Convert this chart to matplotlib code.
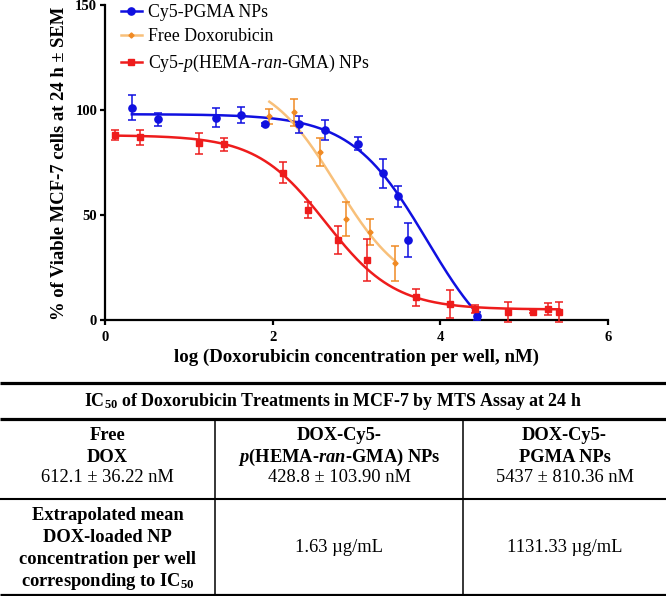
import numpy as np
import matplotlib
matplotlib.use("Agg")
import matplotlib.pyplot as plt
from matplotlib.lines import Line2D

plt.rcParams['font.family'] = ['Liberation Serif', 'DejaVu Serif']
plt.rcParams['mathtext.fontset'] = 'custom'
plt.rcParams['mathtext.rm'] = 'Liberation Serif'
plt.rcParams['mathtext.it'] = 'Liberation Serif:italic'
plt.rcParams['mathtext.bf'] = 'Liberation Serif:bold'
plt.rcParams['mathtext.bfit'] = 'Liberation Serif:italic:bold'

# viability data, x = log(DOX concentration per well, nM)
pgma_x = [0.32, 0.63, 1.32, 1.62, 1.91, 2.32, 2.63, 3.02, 3.32, 3.49, 3.62, 4.44]
pgma_y = [101.1, 95.6, 96.3, 97.6, 93.2, 93.2, 90.5, 84.0, 69.8, 59.0, 38.0, 1.9]
pgma_err = [6.0, 3.0, 4.5, 4.0, 0.8, 4.0, 4.8, 3.0, 7.0, 5.0, 8.0, 2.0]

dox_x = [1.96, 2.26, 2.56, 2.87, 3.16, 3.46]
dox_y = [97.1, 98.9, 80.1, 48.0, 42.0, 27.0]
dox_err = [3.6, 6.3, 6.8, 8.0, 6.3, 8.3]

hema_x = [0.12, 0.42, 1.12, 1.42, 2.12, 2.42, 2.78, 3.12, 3.71, 4.12, 4.41, 4.81, 5.11, 5.29, 5.42]
hema_y = [88.1, 87.0, 84.1, 83.7, 70.2, 52.4, 38.0, 28.6, 10.8, 7.5, 5.1, 4.0, 4.0, 5.1, 4.0]
hema_err = [2.4, 3.6, 5.0, 3.0, 5.0, 4.0, 6.7, 10.0, 4.2, 6.7, 2.0, 4.8, 0.8, 2.8, 4.8]

# 4PL fit parameters (top, bottom, logIC50, hill)
pgma_fit = (98.0, -22.0, 3.84, 0.96)
dox_fit = (117.0, 12.0, 2.76, 1.06)
hema_fit = (88.0, 5.0, 2.632, 1.05)

labels = ["Cy5-PGMA NPs", "Free Doxorubicin", "Cy5-$p$(HEMA-$ran$-GMA) NPs"]

# table below the graph
table_title = r"IC$_{\mathbf{50}}$ of Doxorubicin Treatments in MCF-7 by MTS Assay at 24 h"
col_heads = [["Free", "DOX"],
             ["DOX-Cy5-", r"$\mathbfit{p}$(HEMA-$\mathbfit{ran}$-GMA) NPs"],
             ["DOX-Cy5-", "PGMA NPs"]]
ic50_vals = ["612.1 ± 36.22 nM", "428.8 ± 103.90 nM", "5437 ± 810.36 nM"]
row2_head = ["Extrapolated mean", "DOX-loaded NP", "concentration per well",
             r"corresponding to IC$_{\mathbf{50}}$"]
np_conc = ["1.63 µg/mL", "1131.33 µg/mL"]

blue = "#1010e0"
red = "#ee1c1c"
orange = "#f08a24"
orange_lt = "#f8c07a"


def four_pl(x, top, bottom, logic50, hill):
    return bottom + (top - bottom) / (1 + 10 ** ((x - logic50) * hill))


W, H = 666, 596
fig = plt.figure(figsize=(W / 100, H / 100), dpi=100)
ax = fig.add_axes([105 / W, 1 - 320 / H, 503 / W, 315 / H])

series = [
    (pgma_x, pgma_y, pgma_err, pgma_fit, blue, blue, 'o', 5.2),
    (dox_x, dox_y, dox_err, dox_fit, orange_lt, orange, 'D', 2.6),
    (hema_x, hema_y, hema_err, hema_fit, red, red, 's', 4.8),
]
for x, y, e, p, lc, mc, mk, ms in series:
    xs = np.linspace(min(x), max(x), 300)
    ax.plot(xs, four_pl(xs, *p), color=lc, lw=1.8, zorder=2)
    ax.errorbar(x, y, yerr=e, fmt='none', ecolor=mc, elinewidth=1.1,
                capsize=3, capthick=1.1, zorder=3, clip_on=False)
    ax.plot(x, y, linestyle='none', marker=mk, ms=ms, color=mc, zorder=4, clip_on=False)

handles = [
    Line2D([], [], color=blue, lw=1.8, marker='o', ms=5.2),
    Line2D([], [], color=orange_lt, lw=1.8, marker='D', ms=2.6, mfc=orange, mec=orange),
    Line2D([], [], color=red, lw=1.8, marker='s', ms=4.8),
]
ax.legend(handles, labels, loc='upper left', bbox_to_anchor=(0.032, 1.004),
          frameon=False, fontsize=12.8, handlelength=1.15, handletextpad=0.35,
          labelspacing=0.42, borderpad=0, borderaxespad=0)

ax.set_xlim(0, 6)
ax.set_ylim(0, 150)
ax.set_xticks([0, 2, 4, 6])
ax.set_yticks([0, 50, 100, 150])
for s in ['top', 'right']:
    ax.spines[s].set_visible(False)
for s in ['left', 'bottom']:
    ax.spines[s].set_linewidth(1.6)
ax.tick_params(width=1.6, length=3.6, labelsize=10.5)
ax.tick_params(axis='x', pad=4)
ax.tick_params(axis='y', pad=2)
for t in ax.get_xticklabels() + ax.get_yticklabels():
    t.set_fontweight('bold')

fig.text(60 / W, 1 - 163 / H, "% of Viable MCF-7 cells at 24 h ± SEM", rotation=90,
         ha='center', va='center', fontsize=13.4, fontweight='bold')
fig.text(357 / W, 1 - 357 / H, "log (Doxorubicin concentration per well, nM)",
         ha='center', va='center', fontsize=13.6, fontweight='bold')

# table drawn in pixel coordinates
tab = fig.add_axes([0, 0, 1, 1], zorder=-1)
tab.set_xlim(0, W)
tab.set_ylim(H, 0)
tab.axis('off')
tab.plot([0, W], [382.7, 382.7], color='black', lw=2.3, solid_capstyle='butt')
tab.plot([0, W], [419, 419], color='black', lw=2.3, solid_capstyle='butt')
tab.plot([0, W], [499, 499], color='black', lw=1.5, solid_capstyle='butt')
tab.plot([0, W], [594.5, 594.5], color='black', lw=2.3, solid_capstyle='butt')
for cx in [215, 463]:
    tab.plot([cx, cx], [419, 596], color='black', lw=1.1)

fs = 13.3
tab.text(333, 402, table_title, ha='center', va='center', fontsize=12.9, fontweight='bold')
col_cx = [107.5, 339, 564.5]
for cx, head, val in zip(col_cx, col_heads, ic50_vals):
    tab.text(cx, 436, head[0], ha='center', va='center', fontsize=fs, fontweight='bold')
    tab.text(cx, 457, head[1], ha='center', va='center', fontsize=fs, fontweight='bold')
    tab.text(cx, 478, val, ha='center', va='center', fontsize=fs)
for i, line in enumerate(row2_head):
    tab.text(107.5, 515 + i * 22.3, line, ha='center', va='center', fontsize=fs, fontweight='bold')
for cx, val in zip(col_cx[1:], np_conc):
    tab.text(cx, 548, val, ha='center', va='center', fontsize=fs)

fig.savefig("out.png", dpi=100)
